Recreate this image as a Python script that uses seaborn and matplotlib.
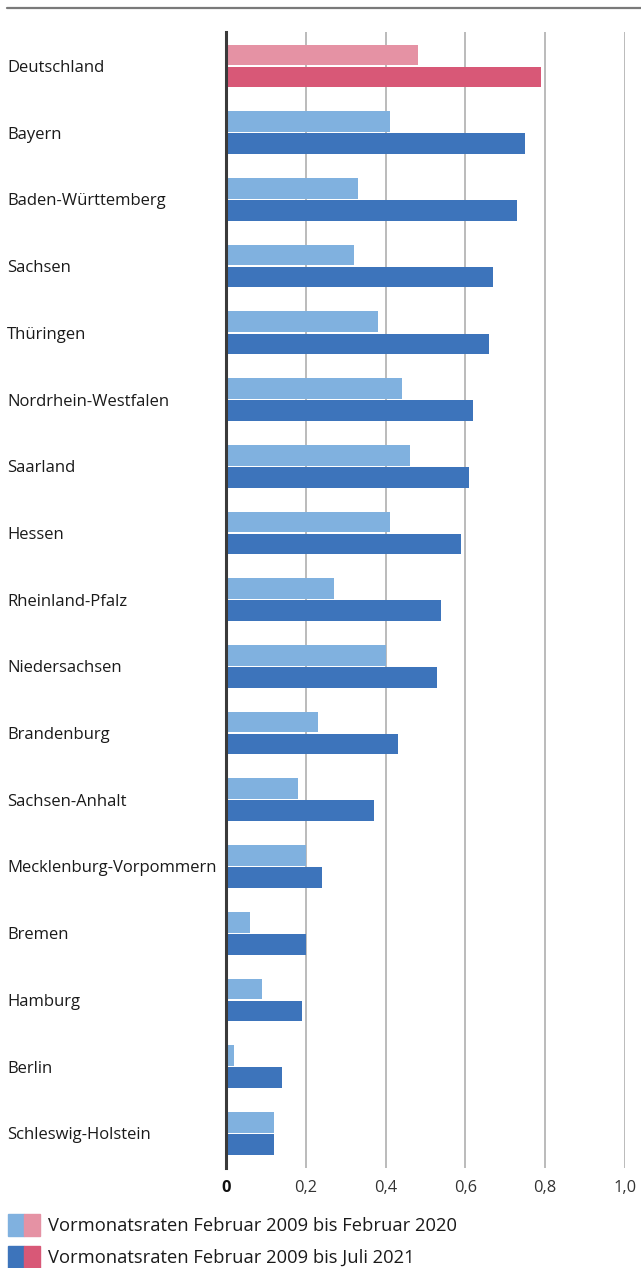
import matplotlib
matplotlib.use("Agg")
import matplotlib.pyplot as plt
import seaborn as sns
import pandas as pd
from matplotlib.lines import Line2D
from matplotlib.patches import Patch
from matplotlib.legend_handler import HandlerTuple

regions = ["Deutschland", "Bayern", "Baden-Württemberg", "Sachsen", "Thüringen",
           "Nordrhein-Westfalen", "Saarland", "Hessen", "Rheinland-Pfalz",
           "Niedersachsen", "Brandenburg", "Sachsen-Anhalt", "Mecklenburg-Vorpommern",
           "Bremen", "Hamburg", "Berlin", "Schleswig-Holstein"]
rate_2009_2020 = [0.48, 0.41, 0.33, 0.32, 0.38, 0.44, 0.46, 0.41, 0.27, 0.40,
                  0.23, 0.18, 0.20, 0.06, 0.09, 0.02, 0.12]
rate_2009_2021 = [0.79, 0.75, 0.73, 0.67, 0.66, 0.62, 0.61, 0.59, 0.54, 0.53,
                  0.43, 0.37, 0.24, 0.20, 0.19, 0.14, 0.12]
series_names = ["Vormonatsraten Februar 2009 bis Februar 2020",
                "Vormonatsraten Februar 2009 bis Juli 2021"]
x_ticks = [0, 0.2, 0.4, 0.6, 0.8, 1.0]
x_tick_labels = ["0", "0,2", "0,4", "0,6", "0,8", "1,0"]

light_blue = "#80b1df"
dark_blue = "#3d74bb"
light_pink = "#e592a4"
dark_pink = "#d85877"

df = pd.DataFrame({
    "Region": regions * 2,
    "Wert": rate_2009_2020 + rate_2009_2021,
    "Serie": [series_names[0]] * len(regions) + [series_names[1]] * len(regions),
})

sns.set_theme(style="white")
plt.rcParams["font.family"] = ["Open Sans", "DejaVu Sans"]

fig = plt.figure(figsize=(6.41, 12.68), dpi=100)
ax = fig.add_axes([226 / 641, 1 - 1168 / 1268, (625 - 226) / 641, (1168 - 32) / 1268])

sns.barplot(data=df, y="Region", x="Wert", hue="Serie", orient="h",
            palette=[light_blue, dark_blue], saturation=1, width=0.66, gap=0.06,
            ax=ax, legend=False, zorder=3)

# Deutschland in red tones
ax.containers[0][0].set_facecolor(light_pink)
ax.containers[1][0].set_facecolor(dark_pink)
for c in ax.containers:
    for p in c:
        p.set_edgecolor("none")

ax.set_xlim(0, 1.0)
ax.set_ylim(len(regions) - 0.48, -0.51)
ax.set_xticks(x_ticks)
ax.set_xticklabels(x_tick_labels)
ax.xaxis.grid(True, color="#a8a8a8", lw=1.1, zorder=0)
ax.yaxis.grid(False)
ax.set_axisbelow(True)
for s in ["top", "right", "bottom"]:
    ax.spines[s].set_visible(False)
ax.spines["left"].set_color("#3a3a3a")
ax.spines["left"].set_linewidth(2.2)
ax.spines["left"].set_zorder(5)
ax.set_xlabel("")
ax.set_ylabel("")
ax.tick_params(axis="x", length=0, pad=9, labelsize=11.8, labelcolor="#333333")
ax.tick_params(axis="y", length=0, labelsize=12.0, labelcolor="#1a1a1a",
               pad=(226 - 7) * 0.72)
for lab in ax.get_yticklabels():
    lab.set_horizontalalignment("left")
ax.get_xticklabels()[0].set_fontweight("bold")
ax.get_xticklabels()[0].set_color("#111111")

# top rule
fig.add_artist(Line2D([7 / 641, 1.0], [1 - 8 / 1268] * 2, color="#7a7a7a",
                      lw=1.6, transform=fig.transFigure))

handles = [(Patch(color=light_blue), Patch(color=light_pink)),
           (Patch(color=dark_blue), Patch(color=dark_pink))]
fig.legend(handles, series_names, handler_map={tuple: HandlerTuple(ndivide=None, pad=0)},
           loc="lower left", bbox_to_anchor=(8 / 641, 0), frameon=False,
           fontsize=13.2, handlelength=1.75, handleheight=1.45, handletextpad=0.45,
           labelspacing=0.55, borderaxespad=0, borderpad=0, labelcolor="#1a1a1a")

fig.savefig("out.png", dpi=100)
